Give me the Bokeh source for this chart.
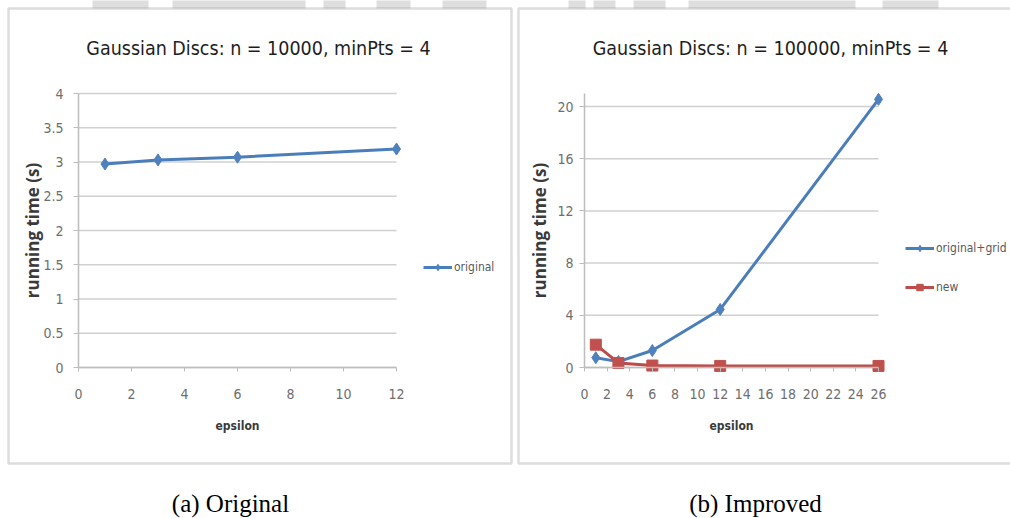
from bokeh.plotting import figure
from bokeh.layouts import row
from bokeh.models import (Range1d, Label, BoxAnnotation, Legend, LegendItem,
                          NumeralTickFormatter)
from bokeh.embed import file_html
from bokeh.resources import INLINE

# ---------------- data ----------------
eps_a = [1, 3, 6, 12]
original_a = [2.97, 3.03, 3.07, 3.19]

eps_b = [1, 3, 6, 12, 26]
original_grid_b = [0.75, 0.45, 1.3, 4.45, 20.55]
new_b = [1.75, 0.35, 0.15, 0.12, 0.12]

xticks_a = [0, 2, 4, 6, 8, 10, 12]
yticks_a = [0, 0.5, 1, 1.5, 2, 2.5, 3, 3.5, 4]
xticks_b = [0, 2, 4, 6, 8, 10, 12, 14, 16, 18, 20, 22, 24, 26]
yticks_b = [0, 4, 8, 12, 16, 20]
ymax_b = 21

title_a = "Gaussian Discs: n = 10000, minPts = 4"
title_b = "Gaussian Discs: n = 100000, minPts = 4"
caption_a = "(a) Original"
caption_b = "(b) Improved"
xlabel = "epsilon"
ylabel = "running time (s)"

# ---------------- style ----------------
COND = "DejaVu Sans Condensed"
BLUE_L, BLUE_M = "#4A7EBB", "#4F81BD"
RED_L, RED_M = "#BE4B48", "#C0504D"
GRID = "#d0d0d0"
BORDER = "#8f8f8f"
SHADE = "#dedede"
H = 518
BOX_TOP, BOX_BOT = 8, 463          # panel box (page px)
DATA_TOP, DATA_BOT = 93, 367       # plot area (page px)
# faint grey background shapes peeking above the panels (page px spans)
shade_spans_a = [(92, 148), (172, 305), (323, 345), (376, 410), (442, 486)]
shade_spans_b = [(568, 585), (593, 615), (633, 665), (688, 855), (882, 938)]


class Panel:
    """A figure whose frame fills the whole canvas; the data area is placed
    inside it by choosing the ranges."""

    def __init__(self, page_x0, width, data_l, data_r, xmax, ymax):
        self.x0 = page_x0
        self.sx = (data_r - data_l) / xmax
        self.sy = (DATA_BOT - DATA_TOP) / ymax
        self.data_l = data_l
        self.p = figure(width=width, height=H, output_backend="svg",
                        toolbar_location=None,
                        x_range=Range1d(self.X(page_x0), self.X(page_x0 + width)),
                        y_range=Range1d(self.Y(H), self.Y(0)),
                        min_border_left=0, min_border_right=0,
                        min_border_top=0, min_border_bottom=0)

    def X(self, px):
        return (px - self.data_l) / self.sx

    def Y(self, py):
        return (DATA_BOT - py) / self.sy

    def rel(self, cx, cy):
        return cx - self.x0, H - cy


def style_panel(P, xticks, yticks, xbounds, ybounds, ytick_standoff, ylabel_standoff):
    p = P.p
    p.outline_line_color = None
    p.background_fill_color = "white"
    p.border_fill_color = "white"
    p.grid.visible = False
    # gridlines across the plot area only
    p.segment(x0=[xbounds[0]] * len(yticks), x1=[xbounds[1]] * len(yticks),
              y0=yticks, y1=yticks, line_color=GRID, line_width=1.5)

    for ax in (p.xaxis[0], p.yaxis[0]):
        ax.fixed_location = 0
        ax.axis_line_color = "#bdbdbd"
        ax.axis_line_width = 1.5
        ax.major_tick_line_color = "#bdbdbd"
        ax.major_tick_in = 0
        ax.minor_tick_line_color = None
        ax.major_label_text_font = COND
        ax.major_label_text_font_size = "14px"
        ax.major_label_text_color = "#6e6e6e"
        ax.axis_label_text_font_style = "bold"
        ax.axis_label_text_color = "#3a3a3a"
        ax.formatter = NumeralTickFormatter(format="0.[0]")

    p.xaxis.bounds = xbounds
    p.xaxis.ticker = xticks
    p.xaxis.major_tick_out = 4
    p.xaxis.major_label_standoff = 17
    p.xaxis.axis_label = xlabel
    p.xaxis.axis_label_text_font = COND
    p.xaxis.axis_label_text_font_size = "12px"
    p.xaxis.axis_label_standoff = 17

    p.yaxis.bounds = ybounds
    p.yaxis.ticker = yticks
    p.yaxis.major_tick_out = 5
    p.yaxis.major_label_standoff = ytick_standoff
    p.yaxis.axis_label = ylabel
    p.yaxis.axis_label_text_font = "Open Sans"
    p.yaxis.axis_label_text_font_size = "17px"
    p.yaxis.axis_label_standoff = ylabel_standoff


def decorate(P, box_l, box_r, shade_spans, title, title_cx, caption, caption_cx,
             legend_items, legend_x, legend_bottom, spacing):
    p = P.p
    for (s0, s1) in shade_spans:
        p.add_layout(BoxAnnotation(left=P.X(s0), right=P.X(s1),
                                   top=P.Y(-2), bottom=P.Y(BOX_TOP),
                                   fill_color=SHADE, fill_alpha=1, line_color=None))
    p.add_layout(BoxAnnotation(left=P.X(box_l), right=P.X(box_r),
                               top=P.Y(BOX_TOP), bottom=P.Y(BOX_BOT),
                               fill_color=None, fill_alpha=0,
                               line_color=BORDER, line_width=2.5))
    tx, ty = P.rel(title_cx, 48)
    p.add_layout(Label(x=tx, y=ty, x_units="screen", y_units="screen", text=title,
                       text_align="center", text_baseline="middle",
                       text_font=COND, text_font_size="19.5px",
                       text_color="#1e1e1e"))
    cx, cy = P.rel(caption_cx, 503)
    p.add_layout(Label(x=cx, y=cy, x_units="screen", y_units="screen", text=caption,
                       text_align="center", text_baseline="middle",
                       text_font="Liberation Serif", text_font_size="25px",
                       text_color="#000000"))
    lx, ly = P.rel(legend_x, legend_bottom)
    lg = Legend(items=legend_items, location=(lx, ly), padding=0, margin=0,
                border_line_color=None, background_fill_alpha=0,
                glyph_width=29, glyph_height=16, label_standoff=2, spacing=spacing,
                label_text_font=COND, label_text_font_size="12px",
                label_text_color="#595959")
    p.add_layout(lg)


# ---------------- panel (a) ----------------
PA = Panel(0, 513, 78, 396, 12, 4)
style_panel(PA, xticks_a, yticks_a, (0, 12), (0, 4), 10, -4)
pa = PA.p
la = pa.line(eps_a, original_a, line_color=BLUE_L, line_width=3)
sa = pa.scatter(eps_a, original_a, marker="diamond", size=12,
                fill_color=BLUE_M, line_color=BLUE_M)
decorate(PA, 8, 511, shade_spans_a, title_a, 258, caption_a, 230,
         [LegendItem(label="original", renderers=[la, sa])], 423, 275, 0)

# ---------------- panel (b) ----------------
PB = Panel(513, 497, 584, 878, 26, ymax_b)
style_panel(PB, xticks_b, yticks_b, (0, 26), (0, ymax_b), 6, 3)
pb = PB.p
lb1 = pb.line(eps_b, original_grid_b, line_color=BLUE_L, line_width=3)
sb1 = pb.scatter(eps_b, original_grid_b, marker="diamond", size=12,
                 fill_color=BLUE_M, line_color=BLUE_M)
lb2 = pb.line(eps_b, new_b, line_color=RED_L, line_width=3)
sb2 = pb.scatter(eps_b, new_b, marker="square", size=11,
                 fill_color=RED_M, line_color=RED_M)
decorate(PB, 518, 1030, shade_spans_b, title_b, 770, caption_b, 755,
         [LegendItem(label="original+grid", renderers=[lb1, sb1]),
          LegendItem(label="new", renderers=[lb2, sb2])], 905, 295, 23)

layout = row(pa, pb, spacing=0)
open("out.html", "w").write(file_html(layout, INLINE))
